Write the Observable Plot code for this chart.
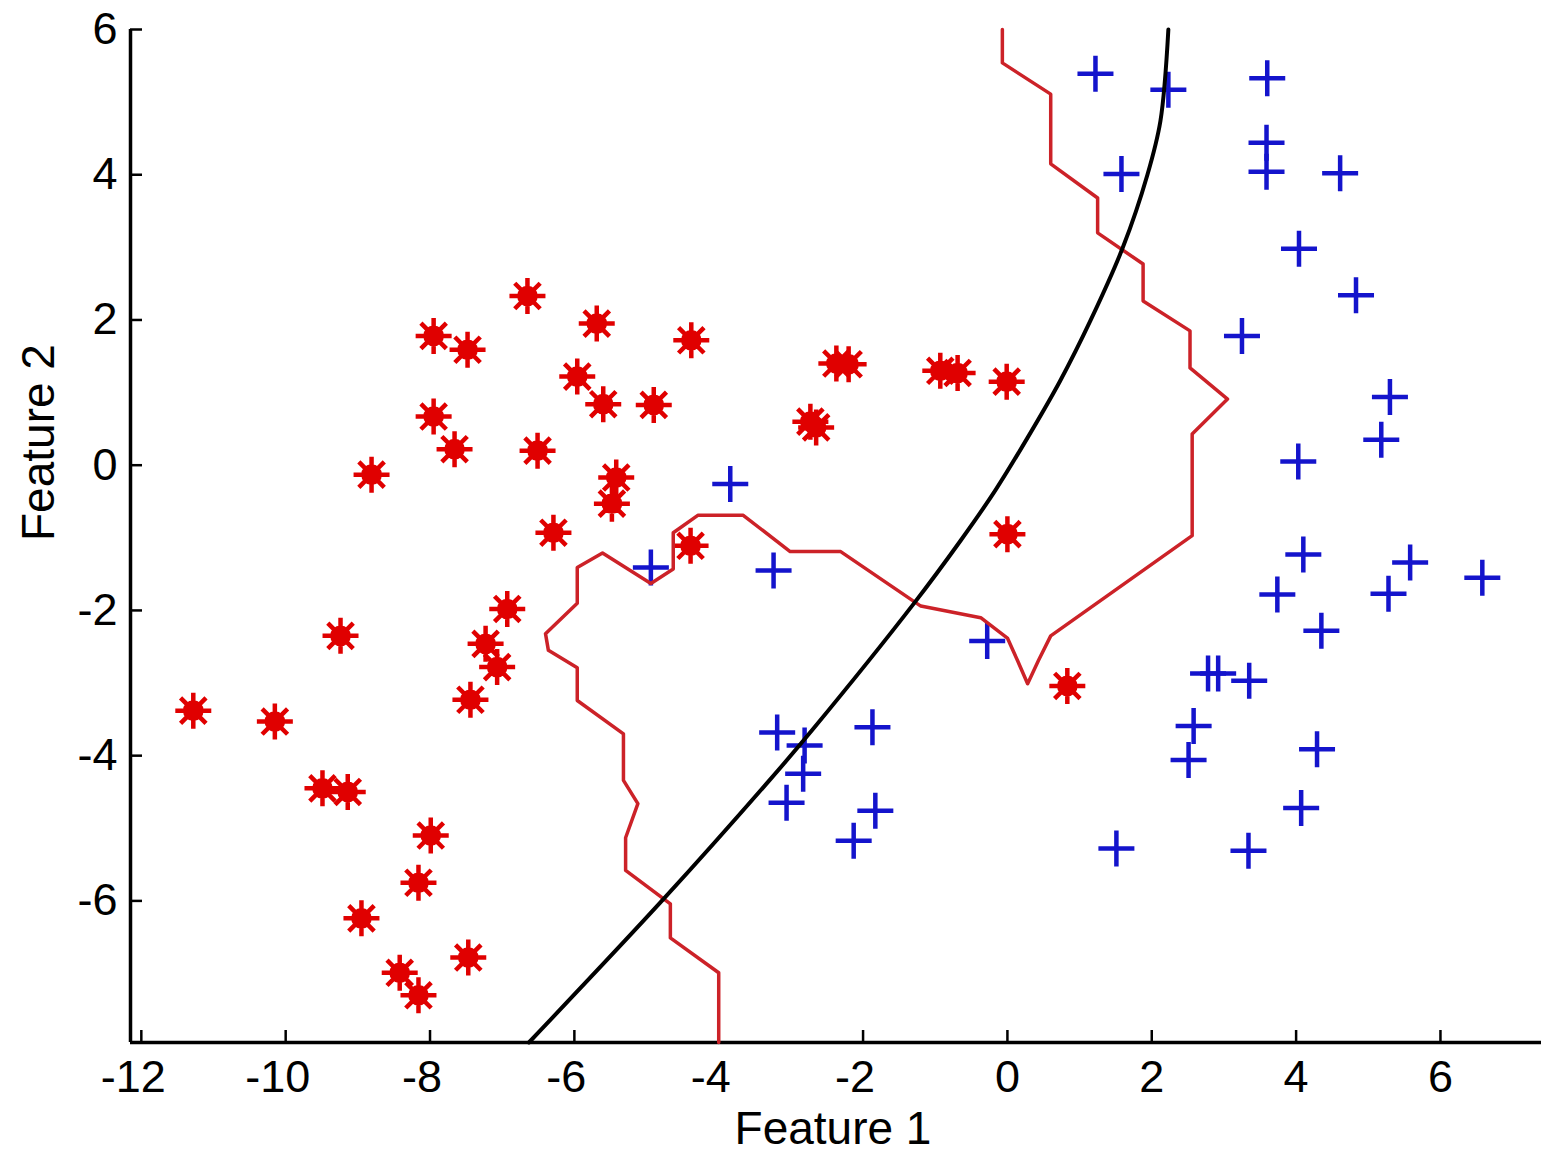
<!DOCTYPE html>
<html>
<head>
<meta charset="utf-8">
<script src="https://cdn.jsdelivr.net/npm/d3@7"></script>
<script src="https://cdn.jsdelivr.net/npm/@observablehq/plot@0.6"></script>
<style>
  html, body { margin: 0; padding: 0; background: #ffffff; }
  #chart { width: 1541px; height: 1151px; }
</style>
</head>
<body>
<div id="chart"></div>
<script>
// ---- Data ----
// Class 1 (red asterisks)
const redX = [-11.28, -10.15, -9.49, -9.14, -7.99, -8.16, -8.95, -8.42, -8.16, -7.47,
              -9.24, -8.81, -7.95, -7.66, -7.95, -7.48, -6.65, -5.69, -4.38, -5.96,
              -5.60, -4.90, -6.51, -5.42, -5.48, -6.29, -6.93, -7.23, -7.07, -7.44,
              -4.39, -2.73, -2.65, -2.37, -2.20, -0.93, -0.69, -0.01, 0.00, 0.83];
const redY = [-3.38, -3.53, -4.45, -4.50, -5.10, -5.75, -6.24, -6.99, -7.30, -6.78,
              -2.35, -0.13, 0.67, 0.22, 1.78, 1.59, 2.33, 1.95, 1.72, 1.22,
              0.84, 0.83, 0.20, -0.17, -0.53, -0.93, -1.98, -2.46, -2.78, -3.23,
              -1.11, 0.60, 0.52, 1.40, 1.39, 1.30, 1.27, 1.15, -0.95, -3.04];

// Class 2 (blue plus signs)
const blueX = [1.51, 3.34, 4.07, 4.29, 2.51, 2.58, 2.78, 2.92, 3.35, 4.35,
               3.74, 5.28, 4.10, 5.58, 6.58, 4.03, 5.18, 5.30, 3.25, 4.83,
               4.04, 4.61, 3.59, 3.59, 3.60, 1.58, 1.22, 2.23,
               -3.84, -4.94, -3.24, -0.28, -3.19, -1.87, -2.81, -2.83, -3.06, -1.83, -2.13];
const blueY = [-5.28, -5.31, -4.72, -3.91, -4.06, -3.59, -2.87, -2.87, -2.97, -2.28,
               -1.78, -1.77, -1.23, -1.34, -1.55, 0.05, 0.35, 0.94, 1.78, 2.34,
               2.98, 4.02, 4.04, 4.44, 5.33, 4.01, 5.39, 5.17,
               -0.26, -1.41, -1.45, -2.42, -3.68, -3.61, -3.86, -4.25, -4.65, -4.76, -5.17];

// Smooth (black) decision boundary
const curveX = [-6.63, -4.76, -3.28, -2.69, -1.30, -0.65, -0.17, 0.28, 0.73, 1.15, 1.60, 1.94, 2.12, 2.23];
const curveY = [-7.95, -5.97, -4.32, -3.63, -1.91, -1.04, -0.35, 0.38, 1.16, 1.99, 3.00, 4.00, 4.74, 6.00];

// Jagged (red) decision boundary vertices
const knnX = [-0.07, -0.07, 0.60, 0.60, 1.25, 1.25, 1.88, 1.88, 2.53, 2.53,
              3.05, 2.56, 2.56, 0.60, 0.43, 0.28, 0.14, 0.00, -0.37, -1.20,
              -2.31, -3.01, -3.66, -4.29, -4.63, -4.63, -4.94, -5.61, -5.96, -5.96,
              -6.40, -6.36, -5.96, -5.96, -5.32, -5.32, -5.12, -5.29, -5.29, -4.67,
              -4.67, -4.00, -4.00];
const knnY = [6.00, 5.54, 5.11, 4.15, 3.68, 3.20, 2.77, 2.26, 1.85, 1.34,
              0.91, 0.43, -0.97, -2.35, -2.69, -3.01, -2.69, -2.38, -2.10, -1.94,
              -1.19, -1.19, -0.69, -0.69, -0.93, -1.43, -1.63, -1.21, -1.41, -1.90,
              -2.32, -2.55, -2.79, -3.24, -3.70, -4.34, -4.66, -5.13, -5.58, -6.04,
              -6.51, -6.99, -7.95];

// Axes
const xTicks = [-12, -10, -8, -6, -4, -2, 0, 2, 4, 6];
const yTicks = [-6, -4, -2, 0, 2, 4, 6];
const xDomain = [-12.15, 7.40];
const yDomain = [-7.95, 6.00];
const xLabel = "Feature 1";
const yLabel = "Feature 2";

// ---- Build tables ----
const red = redX.map((x, i) => ({x, y: redY[i]}));
const blue = blueX.map((x, i) => ({x, y: blueY[i]}));
const curve = curveX.map((x, i) => ({x, y: curveY[i]}));
const knn = knnX.map((x, i) => ({x, y: knnY[i]}));

// ---- Layout ----
const W = 1541, H = 1151;
const mL = 130, mR = 0, mT = 29, mB = 109;
const frameW = W - mL - mR, frameH = H - mT - mB;
const tickLen = 12;

// Custom marker symbols
const asterisk = {
  draw(ctx, size) {
    const r = Math.sqrt(size / Math.PI);
    for (let i = 0; i < 4; i++) {
      const a = i * Math.PI / 4 + Math.PI / 2;
      const dx = r * Math.cos(a), dy = r * Math.sin(a);
      ctx.moveTo(-dx, -dy);
      ctx.lineTo(dx, dy);
    }
    const c = r * 0.45;
    ctx.moveTo(c, 0);
    ctx.arc(0, 0, c, 0, 2 * Math.PI);
  }
};
const plusSym = {
  draw(ctx, size) {
    const r = Math.sqrt(size / Math.PI);
    ctx.moveTo(-r, 0); ctx.lineTo(r, 0);
    ctx.moveTo(0, -r); ctx.lineTo(0, r);
  }
};

const font = "'Liberation Sans', Arial, Helvetica, sans-serif";

const chart = Plot.plot({
  width: W,
  height: H,
  marginLeft: mL,
  marginRight: mR,
  marginTop: mT,
  marginBottom: mB,
  x: {domain: xDomain, label: null},
  y: {domain: yDomain, label: null},
  style: {fontFamily: font, fontSize: "45px", color: "#000", background: "#fff", overflow: "visible"},
  marks: [
    // axis lines
    Plot.ruleY([yDomain[0]], {stroke: "#000", strokeWidth: 3.5}),
    Plot.ruleX([xDomain[0]], {stroke: "#000", strokeWidth: 3.5}),
    // inward ticks (spanning only tickLen px from the axis line)
    Plot.tickX(xTicks, {x: d => d, insetTop: frameH - tickLen, stroke: "#000", strokeWidth: 2.5}),
    Plot.tickY(yTicks, {y: d => d, insetRight: frameW - tickLen, stroke: "#000", strokeWidth: 2.5}),
    // tick labels
    Plot.axisX(xTicks.filter(d => d < 0), {tickSize: 0, tickPadding: 18, tickFormat: d => String(d), dx: -8, fontSize: 45, label: null}),
    Plot.axisX(xTicks.filter(d => d >= 0), {tickSize: 0, tickPadding: 18, tickFormat: d => String(d), fontSize: 45, label: null}),
    Plot.axisY(yTicks, {tickSize: 0, tickPadding: 13, tickFormat: d => String(d), fontSize: 45, label: null}),
    // axis titles
    Plot.text([xLabel], {text: d => d, frameAnchor: "bottom", lineAnchor: "bottom", dy: 101, dx: -3, fontSize: 46, fill: "#000"}),
    Plot.text([yLabel], {text: d => d, frameAnchor: "left", lineAnchor: "bottom", rotate: -90, dx: -77, dy: 5, fontSize: 46, fill: "#000"}),
    // points
    Plot.dot(red, {x: "x", y: "y", r: 18, symbol: asterisk, fill: "#f00000", stroke: "#e00000", strokeWidth: 4.5}),
    Plot.dot(blue, {x: "x", y: "y", r: 18, symbol: plusSym, fill: "none", stroke: "#1414cc", strokeWidth: 4.5}),
    // boundaries
    Plot.line(knn, {x: "x", y: "y", stroke: "#cc2228", strokeWidth: 3.5, strokeLinejoin: "round"}),
    Plot.line(curve, {x: "x", y: "y", curve: "catmull-rom", stroke: "#000", strokeWidth: 4})
  ]
});

document.getElementById("chart").appendChild(chart);
</script>
</body>
</html>
